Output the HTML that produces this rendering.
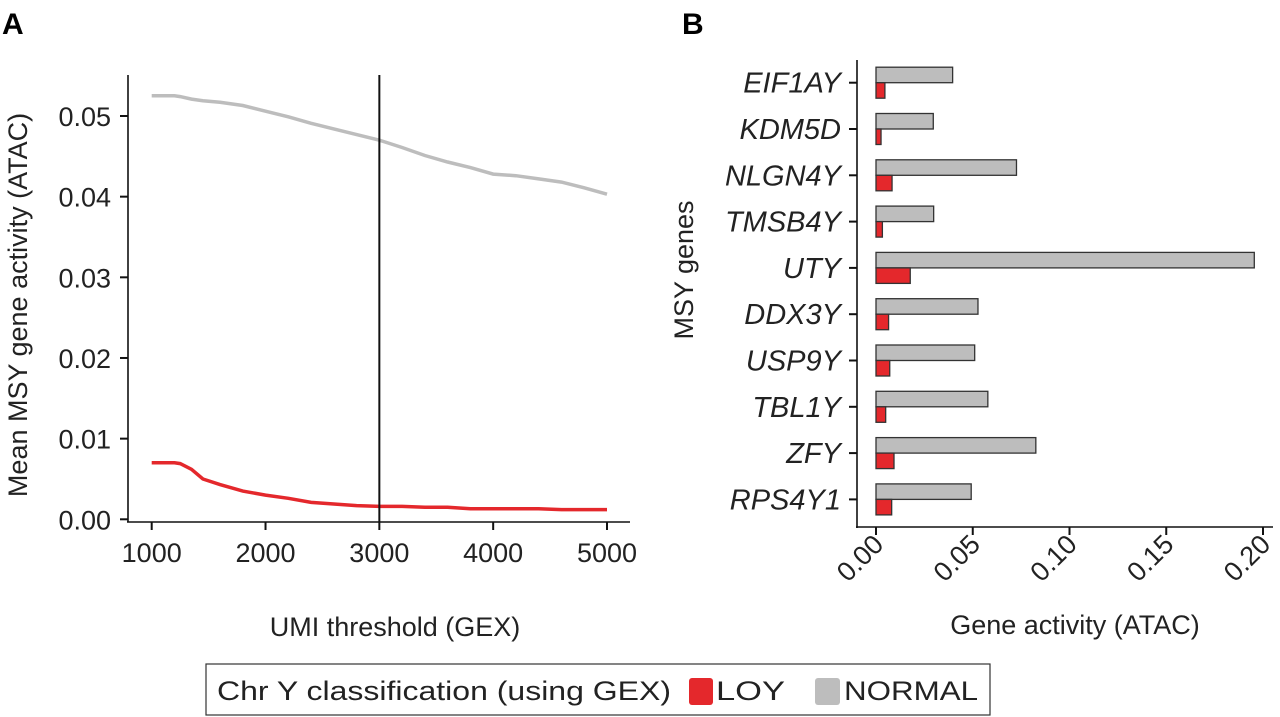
<!DOCTYPE html>
<html><head><meta charset="utf-8"><style>
body{margin:0;background:#fff;}
svg{display:block;font-family:"Liberation Sans",Arial,sans-serif;}
</style></head><body>
<svg id="chart" width="1280" height="717" viewBox="0 0 1280 717">
<text x="2" y="34" font-size="30" font-weight="bold">A</text>
<text x="682" y="34" font-size="30" font-weight="bold">B</text>
<g id="pa"></g>
<g id="pb"></g>
<g>
<rect x="206" y="664" width="784" height="51" fill="#fff" stroke="#333" stroke-width="1.2"/>
<text x="217" y="700" font-size="27" textLength="454" lengthAdjust="spacingAndGlyphs" fill="#222">Chr Y classification (using GEX)</text>
<rect x="689" y="678" width="24" height="27" rx="3" fill="#e4282c"/>
<text x="716" y="700" font-size="27" textLength="69" lengthAdjust="spacingAndGlyphs" fill="#222">LOY</text>
<rect x="815" y="678" width="25" height="27" rx="3" fill="#bdbdbd"/>
<text x="844" y="700" font-size="27" textLength="134" lengthAdjust="spacingAndGlyphs" fill="#222">NORMAL</text>
</g>
</svg>
<script>
// Panel A data
const umiX = [1000,1100,1200,1250,1350,1450,1600,1800,2000,2200,2400,2600,2800,3000,3200,3400,3600,3800,4000,4200,4400,4600,4800,5000];
const normalY = [0.0525,0.0525,0.0525,0.0524,0.0521,0.0519,0.0517,0.0513,0.0506,0.0499,0.0491,0.0484,0.0477,0.0470,0.0461,0.0451,0.0443,0.0436,0.0428,0.0426,0.0422,0.0418,0.0411,0.0403];
const loyY = [0.0070,0.0070,0.0070,0.0069,0.0062,0.0050,0.0043,0.0035,0.0030,0.0026,0.0021,0.0019,0.0017,0.0016,0.0016,0.0015,0.0015,0.0013,0.0013,0.0013,0.0013,0.0012,0.0012,0.0012];
const aXTicks = [1000,2000,3000,4000,5000];
const aYTicks = [0,0.01,0.02,0.03,0.04,0.05];
const aYTickLabels = ["0.00","0.01","0.02","0.03","0.04","0.05"];
const threshold = 3000;
// Panel B data
const genes = ["EIF1AY","KDM5D","NLGN4Y","TMSB4Y","UTY","DDX3Y","USP9Y","TBL1Y","ZFY","RPS4Y1"];
const normalVals = [0.0396,0.0296,0.0726,0.0298,0.1955,0.0527,0.0510,0.0578,0.0826,0.0492];
const loyVals = [0.0046,0.0026,0.0083,0.0033,0.0177,0.0065,0.0071,0.0050,0.0093,0.0081];
const bXTicks = [0,0.05,0.10,0.15,0.20];
const bXTickLabels = ["0.00","0.05","0.10","0.15","0.20"];

const NS="http://www.w3.org/2000/svg";
function mk(p,t,a){const e=document.createElementNS(NS,t);for(const k in a)e.setAttribute(k,a[k]);p.appendChild(e);return e;}
const pa=document.getElementById('pa'), pb=document.getElementById('pb');
const FS=27;

// Panel A scales
const ax=v=>151.7+(v-1000)/4000*455.3;
const ay=v=>519.3-v/0.05*403.3;
let e;
e=mk(pa,'line',{x1:128,y1:75,x2:128,y2:522,stroke:'#111','stroke-width':1.6});


e=mk(pa,'line',{x1:127,y1:522,x2:630,y2:522,stroke:'#111','stroke-width':1.6});


aYTicks.forEach((v,i)=>{
 const y=ay(v);
 e=mk(pa,'line',{x1:120,y1:y,x2:128,y2:y,stroke:'#111','stroke-width':2});
 
 
 e=mk(pa,'text',{x:111,y:y+10,'font-size':FS,'text-anchor':'end',fill:'#222'});
 e.textContent=aYTickLabels[i];
 
 
});
aXTicks.forEach(v=>{
 const x=ax(v);
 e=mk(pa,'line',{x1:x,y1:522,x2:x,y2:530,stroke:'#111','stroke-width':2});
 
 
 e=mk(pa,'text',{x:x,y:562,'font-size':FS,'text-anchor':'middle',fill:'#222'});
 e.textContent=String(v);
 
 
});
e=mk(pa,'text',{x:395,y:636,'font-size':FS,'text-anchor':'middle',fill:'#222'});
e.textContent='UMI threshold (GEX)';


e=mk(pa,'text',{x:0,y:0,'font-size':FS,'text-anchor':'middle',fill:'#222',transform:'translate(27,305) rotate(-90)'});
e.textContent='Mean MSY gene activity (ATAC)';


function stepPath(ys){let d='';umiX.forEach((x,i)=>{d+=(i?'L':'M')+ax(x).toFixed(1)+','+ay(ys[i]).toFixed(1);});return d;}
e=mk(pa,'path',{d:stepPath(normalY),fill:'none',stroke:'#bdbdbd','stroke-width':3.5});


e=mk(pa,'path',{d:stepPath(loyY),fill:'none',stroke:'#e4282c','stroke-width':3.5});


e=mk(pa,'line',{x1:ax(threshold),y1:75,x2:ax(threshold),y2:522,stroke:'#111','stroke-width':2});



// Panel B scales
const bx=v=>876+v/0.2*387;
const by=i=>82.7+i*46.3;
const bh=15.5;
e=mk(pb,'line',{x1:857,y1:60,x2:857,y2:528,stroke:'#111','stroke-width':1.6});


e=mk(pb,'line',{x1:856,y1:527,x2:1273,y2:527,stroke:'#111','stroke-width':1.6});


genes.forEach((g,i)=>{
 const y=by(i);
 e=mk(pb,'line',{x1:849,y1:y,x2:857,y2:y,stroke:'#111','stroke-width':2});
 
 
 e=mk(pb,'text',{x:841,y:y+10,'font-size':29,'font-style':'italic','text-anchor':'end',fill:'#222'});
 e.textContent=g;
 
 
 e=mk(pb,'rect',{x:bx(0),y:y-bh,width:bx(normalVals[i])-bx(0),height:bh,fill:'#bdbdbd',stroke:'#333','stroke-width':1.3});
 
 
 e=mk(pb,'rect',{x:bx(0),y:y,width:bx(loyVals[i])-bx(0),height:bh,fill:'#e4282c',stroke:'#333','stroke-width':1.3});
 
 
});
bXTicks.forEach((v,i)=>{
 const x=bx(v);
 e=mk(pb,'line',{x1:x,y1:527,x2:x,y2:535,stroke:'#111','stroke-width':2});
 
 
 e=mk(pb,'text',{x:0,y:0,'font-size':FS,'text-anchor':'end',fill:'#222',transform:'translate('+(x+9)+',546) rotate(-45)'});
 e.textContent=bXTickLabels[i];
 
 
});
e=mk(pb,'text',{x:1075,y:634,'font-size':FS,'text-anchor':'middle',fill:'#222'});
e.textContent='Gene activity (ATAC)';


e=mk(pb,'text',{x:0,y:0,'font-size':FS,'text-anchor':'middle',fill:'#222',transform:'translate(693,270) rotate(-90)'});
e.textContent='MSY genes';


</script>
</body></html>
